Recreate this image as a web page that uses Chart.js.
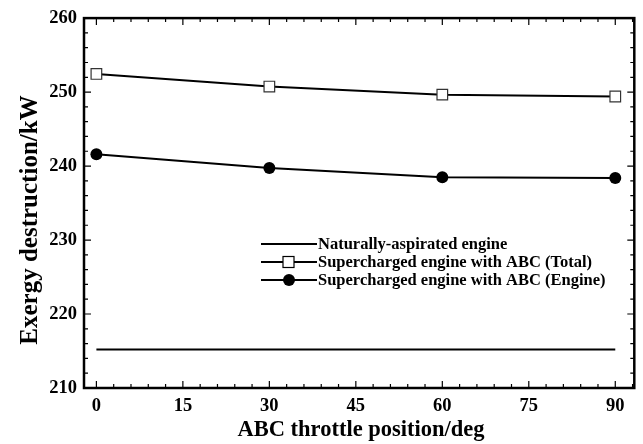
<!DOCTYPE html>
<html>
<head>
<meta charset="utf-8">
<script src="https://cdn.jsdelivr.net/npm/chart.js@4/dist/chart.umd.min.js"></script>
<style>
  html, body { margin: 0; padding: 0; background: #fff; }
  #wrap { width: 643px; height: 444px; }
</style>
</head>
<body>
<div id="wrap"><canvas id="c" width="643" height="444"></canvas></div>
<script>
const throttle = [0, 30, 60, 90]
const naturalX = [0, 90]
const naturalY = [215.2, 215.2]
const totalY = [252.45, 250.75, 249.65, 249.4]
const engineY = [241.6, 239.75, 238.5, 238.4]
const xTicks = [0, 15, 30, 45, 60, 75, 90]
const yTicks = [210, 220, 230, 240, 250, 260]
const seriesNames = ['Naturally-aspirated engine', 'Supercharged engine with ABC (Total)', 'Supercharged engine with ABC (Engine)']
const xTitle = 'ABC throttle position/deg'
const yTitle = 'Exergy destruction/kW'

const serif = '"Liberation Serif", "Times New Roman", serif'

// inward ticks on all four sides + frame + legend + axis titles
const framePlugin = {
  id: 'frame',
  afterDraw (chart) {
    const { ctx, chartArea: a, scales } = chart
    ctx.save()
    ctx.strokeStyle = '#000'
    ctx.lineWidth = 1.2
    for (let v = 0; v <= 93; v += 3) {
      const px = scales.x.getPixelForValue(v)
      const len = v % 15 === 0 ? 7 : 4
      ctx.beginPath()
      ctx.moveTo(px, a.bottom); ctx.lineTo(px, a.bottom - len)
      ctx.moveTo(px, a.top); ctx.lineTo(px, a.top + len)
      ctx.stroke()
    }
    for (let v = 210; v <= 260; v += 2) {
      const py = scales.y.getPixelForValue(v)
      const len = v % 10 === 0 ? 7 : 4
      ctx.beginPath()
      ctx.moveTo(a.left, py); ctx.lineTo(a.left + len, py)
      ctx.moveTo(a.right, py); ctx.lineTo(a.right - len, py)
      ctx.stroke()
    }
    ctx.lineWidth = 2.5
    ctx.strokeRect(a.left, a.top, a.right - a.left, a.bottom - a.top)

    // legend
    ctx.font = 'bold 16.5px ' + serif
    ctx.textBaseline = 'middle'
    ctx.fillStyle = '#000'
    const lx = 261
    const ly = [244, 262, 280]
    seriesNames.forEach((name, i) => {
      ctx.lineWidth = 1.8
      ctx.beginPath()
      ctx.moveTo(lx, ly[i]); ctx.lineTo(lx + 56, ly[i])
      ctx.stroke()
      if (i === 1) {
        ctx.fillStyle = '#fff'
        ctx.fillRect(lx + 22, ly[i] - 5.5, 11, 11)
        ctx.lineWidth = 1.2
        ctx.strokeRect(lx + 22, ly[i] - 5.5, 11, 11)
      } else if (i === 2) {
        ctx.fillStyle = '#000'
        ctx.beginPath()
        ctx.arc(lx + 28, ly[i], 6, 0, Math.PI * 2)
        ctx.fill()
      }
      ctx.fillStyle = '#000'
      ctx.fillText(name, lx + 57, ly[i] + 1)
    })

    // axis titles
    ctx.textBaseline = 'alphabetic'
    ctx.textAlign = 'center'
    ctx.font = 'bold 22.5px ' + serif
    ctx.fillText(xTitle, 361, 436)
    ctx.translate(37, 220)
    ctx.rotate(-Math.PI / 2)
    ctx.font = 'bold 25px ' + serif
    ctx.fillText(yTitle, 0, 0)
    ctx.restore()
  }
}

new Chart(document.getElementById('c'), {
  type: 'scatter',
  data: {
    datasets: [
      {
        label: seriesNames[0],
        data: naturalX.map((x, i) => ({ x, y: naturalY[i] })),
        showLine: true,
        borderColor: '#000',
        borderWidth: 2,
        pointRadius: 0
      },
      {
        label: seriesNames[1],
        data: throttle.map((x, i) => ({ x, y: totalY[i] })),
        showLine: true,
        borderColor: '#000',
        borderWidth: 2,
        pointStyle: 'rect',
        pointRadius: 7.5,
        pointBackgroundColor: '#fff',
        pointBorderColor: '#333',
        pointBorderWidth: 1.2
      },
      {
        label: seriesNames[2],
        data: throttle.map((x, i) => ({ x, y: engineY[i] })),
        showLine: true,
        borderColor: '#000',
        borderWidth: 2,
        pointStyle: 'circle',
        pointRadius: 6,
        pointBackgroundColor: '#000',
        pointBorderColor: '#000',
        pointBorderWidth: 0
      }
    ]
  },
  options: {
    responsive: false,
    animation: false,
    layout: { padding: { left: 0, right: 6, top: 17, bottom: 0 } },
    plugins: { legend: { display: false }, tooltip: { enabled: false } },
    scales: {
      x: {
        min: -2.15,
        max: 93.3,
        afterBuildTicks: (s) => { s.ticks = xTicks.map(v => ({ value: v })) },
        afterFit: (s) => { s.height = 56 },
        grid: { display: false, drawTicks: false },
        border: { display: false },
        ticks: { color: '#000', font: { family: serif, size: 18.5, weight: 'bold' }, padding: 7, maxRotation: 0 },
        title: { display: false }
      },
      y: {
        min: 210,
        max: 260,
        afterBuildTicks: (s) => { s.ticks = yTicks.map(v => ({ value: v })) },
        afterFit: (s) => { s.width = 84 },
        grid: { display: false, drawTicks: false },
        border: { display: false },
        ticks: { color: '#000', font: { family: serif, size: 18.5, weight: 'bold' }, padding: 7 },
        title: { display: false }
      }
    }
  },
  plugins: [framePlugin]
})
</script>
</body>
</html>
